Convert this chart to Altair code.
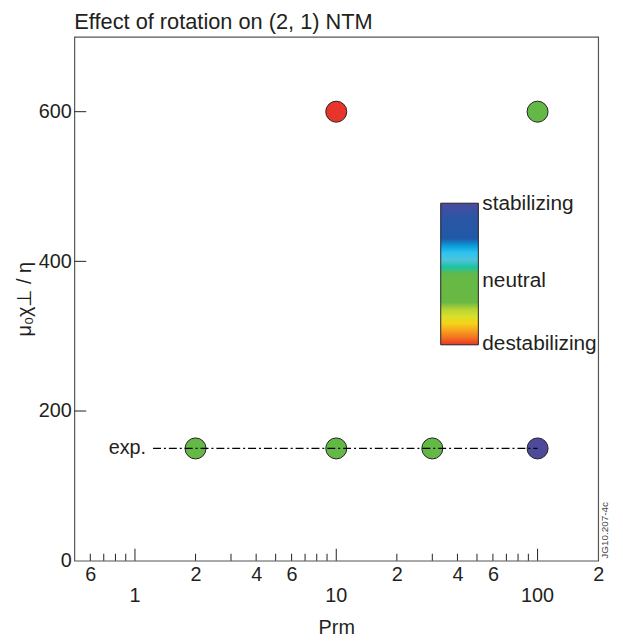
import altair as alt
import pandas as pd

# ---- data ----
prm = [2, 10, 30, 100, 10, 100]
chi = [150, 150, 150, 150, 600, 600]
# -1 = destabilizing, 0 = neutral, 1 = stabilizing
effect = [0, 0, 0, 1, -1, 0]

exp_level = [150, 150]
exp_prm = [1.23, 100]

minor_ticks = [0.6, 0.7, 0.8, 0.9, 2, 3, 4, 5, 6, 7, 8, 9,
               20, 30, 40, 50, 60, 70, 80, 90]
minor_labels = [0.6, 2, 4, 6, 20, 40, 60, 200]
major_ticks = [1, 10, 100]
major_labels = ["1", "10", "100"]
y_ticks = [200, 400, 600]
y_labels = [0, 200, 400, 600]

# colour bar (bottom = destabilizing, top = stabilizing)
stop_vals = [-1, -0.8, -0.66, -0.5, -0.4, 0.04, 0.15, 0.3, 0.36, 0.5, 0.84, 1]
stop_cols = ["#e8352c", "#f7a21f", "#f0e724", "#b6d334", "#69b944", "#64b946",
             "#5ec2d2", "#2cc3ef", "#23b6e8", "#2059a7", "#2c55a4", "#4d4a9b"]
legend_vals = [-0.99, -0.1, 0.99]

W, H = 529, 529
INK = "#231f20"
FONT = "Liberation Sans"
FS = 20

pts = pd.DataFrame({"prm": prm, "chi": chi, "effect": effect})
expdf = pd.DataFrame({"prm": exp_prm, "chi": exp_level})
minor_df = pd.DataFrame({"x": minor_ticks})
major_df = pd.DataFrame({"x": major_ticks, "lab": major_labels})
ytick_df = pd.DataFrame({"y": y_ticks})

xscale = alt.Scale(type="log", domain=[0.5, 200], nice=False)
yscale = alt.Scale(domain=[0, 700], nice=False)

points = alt.Chart(pts).mark_point(
    shape="circle", filled=True, size=450, stroke=INK, strokeWidth=1, opacity=1
).encode(
    x=alt.X("prm:Q", scale=xscale,
            axis=alt.Axis(values=minor_labels, tickSize=0, domain=False, grid=False,
                          labelFontSize=FS, labelColor=INK, labelPadding=4,
                          labelFlush=False, labelOverlap=False, labelFont=FONT,
                          labelExpr="substring(format(datum.value, '.0e'), 0, 1)",
                          title="Prm", titleFontSize=FS, titleFontWeight="normal",
                          titleColor=INK, titlePadding=34, titleFont=FONT)),
    y=alt.Y("chi:Q", scale=yscale,
            axis=alt.Axis(values=y_labels, tickSize=0, domain=False, grid=False,
                          labelFontSize=FS, labelColor=INK, labelPadding=3,
                          labelFont=FONT,
                          title="μ₀χ⊥ / η", titleFontSize=FS, titleFontWeight="normal",
                          titleColor=INK, titlePadding=4, titleFont=FONT)),
    color=alt.Color("effect:Q",
                    scale=alt.Scale(domain=stop_vals, range=stop_cols),
                    legend=alt.Legend(orient="none", legendX=370, legendY=168,
                                      direction="vertical", title=None,
                                      gradientLength=143, gradientThickness=38,
                                      gradientStrokeColor=INK, gradientStrokeWidth=1,
                                      values=legend_vals,
                                      labelExpr="datum.value > 0.5 ? 'stabilizing' : datum.value < -0.5 ? 'destabilizing' : 'neutral'",
                                      labelFontSize=21, labelColor=INK, labelOffset=4,
                                      labelBaseline="middle", labelLimit=300,
                                      labelOverlap=False, labelFont=FONT, padding=0)),
)

exp_line = alt.Chart(expdf).mark_line(
    color="#000000", strokeWidth=1.2, strokeDash=[8, 3, 2, 3]
).encode(x=alt.X("prm:Q", scale=xscale), y=alt.Y("chi:Q", scale=yscale))

exp_text = alt.Chart(expdf.iloc[[0]]).mark_text(
    text="exp.", align="right", baseline="middle", dx=-7, fontSize=FS,
    color=INK, font=FONT
).encode(x=alt.X("prm:Q", scale=xscale), y=alt.Y("chi:Q", scale=yscale))

minor_t = alt.Chart(minor_df).mark_tick(
    orient="vertical", size=7, thickness=1, color=INK, yOffset=-3.5, opacity=1
).encode(x=alt.X("x:Q", scale=xscale), y=alt.datum(0))

major_t = alt.Chart(major_df).mark_tick(
    orient="vertical", size=12, thickness=1, color=INK, yOffset=-6, opacity=1
).encode(x=alt.X("x:Q", scale=xscale), y=alt.datum(0))

major_lab = alt.Chart(major_df).mark_text(
    baseline="middle", align="center", dy=36, fontSize=FS, color=INK, font=FONT
).encode(x=alt.X("x:Q", scale=xscale), y=alt.datum(0), text="lab:N")

y_t = alt.Chart(ytick_df).mark_tick(
    orient="horizontal", size=12, thickness=1, color=INK, xOffset=6, opacity=1
).encode(y=alt.Y("y:Q", scale=yscale), x=alt.datum(0.5))

stamp = alt.Chart(pd.DataFrame({"t": ["JG10.207-4c"]})).mark_text(
    angle=270, align="left", baseline="middle", fontSize=10, color="#444444",
    font=FONT
).encode(x=alt.value(W + 7), y=alt.value(H - 2), text="t:N")

chart = alt.layer(
    points, exp_line, exp_text, minor_t, major_t, major_lab, y_t, stamp
).properties(
    width=W, height=H,
    title=alt.TitleParams("Effect of rotation on (2, 1) NTM", anchor="start",
                          frame="group", fontSize=22, fontWeight="normal",
                          color=INK, offset=3, font=FONT),
    padding={"left": 6, "top": 0, "right": 5, "bottom": 2},
).configure_view(stroke="#555555", strokeWidth=1.2)

chart.save("out.html", embed_options={"renderer": "svg", "actions": False})
